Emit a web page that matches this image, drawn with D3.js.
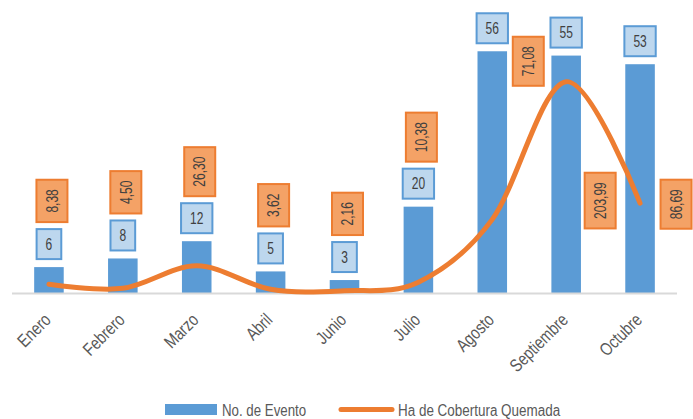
<!DOCTYPE html>
<html>
<head>
<meta charset="utf-8">
<script src="https://cdn.jsdelivr.net/npm/d3@7"></script>
<style>
  html, body { margin: 0; padding: 0; background: #ffffff; }
  svg { display: block; }
  text { font-family: "Liberation Sans Narrow", "Liberation Sans", sans-serif; }
</style>
</head>
<body>
<svg id="chart" width="693" height="419"></svg>
<script>
// ---- data ----
const categories = ["Enero", "Febrero", "Marzo", "Abril", "Junio", "Julio", "Agosto", "Septiembre", "Octubre"];
const eventos = [6, 8, 12, 5, 3, 20, 56, 55, 53];
const hectareas = [8.38, 4.50, 26.30, 3.62, 2.16, 10.38, 71.08, 203.99, 86.69];
const hectareaLabels = ["8,38", "4,50", "26,30", "3,62", "2,16", "10,38", "71,08", "203,99", "86,69"];
const seriesNames = ["No. de Evento", "Ha de Cobertura Quemada"];
// manual label placement (offsets of the orange labels, px) for the last months
const orangeLabelOffset = [null, null, null, null, null, null, {dx: 36, dy: 10}, {dx: 34, dy: 145}, {dx: 36, dy: 140}];

// ---- layout ----
const plot = {left: 12, right: 677, top: 34, bottom: 293};
const blue = "#5B9BD5", orange = "#ED7D31";
const svg = d3.select("#chart");

// condense a text element horizontally (narrow font look)
function condense(sel, k) {
  sel.each(function () {
    const len = this.getComputedTextLength();
    d3.select(this).attr("textLength", len * k).attr("lengthAdjust", "spacingAndGlyphs");
  });
  return sel;
}

const x = d3.scaleBand().domain(categories).range([plot.left, plot.right]).paddingInner(0.6).paddingOuter(0.3);
const y = d3.scaleLinear().domain([0, 60]).range([plot.bottom, plot.top]);
const y2 = d3.scaleLinear().domain([0, 250]).range([plot.bottom, plot.top]);
const cx = c => x(c) + x.bandwidth() / 2;

// bars
svg.append("g").selectAll("rect").data(categories).join("rect")
  .attr("x", c => x(c)).attr("width", x.bandwidth())
  .attr("y", (c, i) => y(eventos[i])).attr("height", (c, i) => y(0) - y(eventos[i]))
  .attr("fill", blue);

// axis line
svg.append("line").attr("x1", plot.left).attr("x2", plot.right)
  .attr("y1", plot.bottom + 0.5).attr("y2", plot.bottom + 0.5)
  .attr("stroke", "#d9d9d9").attr("stroke-width", 2);

// smoothed line
const line = d3.line().x((d, i) => cx(categories[i])).y(d => y2(d)).curve(d3.curveCardinal.tension(0));
svg.append("path").datum(hectareas).attr("d", line)
  .attr("fill", "none").attr("stroke", orange).attr("stroke-width", 5).attr("stroke-linecap", "round");

// x axis labels
const xAxis = d3.axisBottom(x).tickSize(0).tickPadding(0);
const gx = svg.append("g").attr("transform", `translate(0,${plot.bottom})`).call(xAxis);
gx.select(".domain").remove();
const xt = gx.selectAll("text")
  .attr("font-family", "Liberation Sans Narrow, Liberation Sans, sans-serif")
  .attr("font-size", 18).attr("fill", "#595959")
  .attr("text-anchor", "end")
  .attr("x", 0).attr("y", 0).attr("dy", 0)
  .attr("transform", "translate(3,28) rotate(-45)");
condense(xt, 0.8);

// data labels
const fs = 16;
const labelG = svg.append("g");
categories.forEach((c, i) => {
  const barTop = y(eventos[i]);
  // blue label
  const bt = labelG.append("text").text(eventos[i])
    .attr("font-size", fs).attr("fill", "#404040").attr("text-anchor", "middle");
  condense(bt, 0.75);
  const bw = +bt.attr("textLength") + 18;
  const bh = 30;
  const bBottom = barTop - 8;
  const bTop = bBottom - bh;
  labelG.insert("rect", "text").attr("x", cx(c) - bw / 2).attr("y", bTop).attr("width", bw).attr("height", bh)
    .attr("fill", "#BDD7EE").attr("stroke", blue).attr("stroke-width", 2);
  bt.attr("x", cx(c)).attr("y", bTop + bh / 2).attr("dy", "0.36em");
  // orange label (rotated)
  const ot = labelG.append("text").text(hectareaLabels[i])
    .attr("font-size", fs).attr("fill", "#404040").attr("text-anchor", "middle");
  condense(ot, 0.75);
  const oh = +ot.attr("textLength") + 19;
  const ow = 31;
  let ocx, ocy;
  const off = orangeLabelOffset[i];
  if (off) { ocx = cx(c) + off.dx; ocy = barTop + off.dy; }
  else { ocx = cx(c) + 3; ocy = bTop - 7 - oh / 2; }
  labelG.insert("rect", "text").attr("x", ocx - ow / 2).attr("y", ocy - oh / 2).attr("width", ow).attr("height", oh)
    .attr("fill", "#F4A266").attr("stroke", orange).attr("stroke-width", 2);
  ot.attr("transform", `translate(${ocx},${ocy}) rotate(-90)`).attr("dy", "0.36em");
});

// legend
const lg = svg.append("g");
lg.append("rect").attr("x", 165).attr("y", 404).attr("width", 52).attr("height", 11).attr("fill", blue);
condense(lg.append("text").attr("x", 222).attr("y", 410).attr("dy", "0.36em").attr("font-size", 16).attr("fill", "#595959").text(seriesNames[0]), 0.83);
lg.append("line").attr("x1", 341).attr("x2", 392).attr("y1", 409.5).attr("y2", 409.5)
  .attr("stroke", orange).attr("stroke-width", 5).attr("stroke-linecap", "round");
condense(lg.append("text").attr("x", 398).attr("y", 410).attr("dy", "0.36em").attr("font-size", 16).attr("fill", "#595959").text(seriesNames[1]), 0.84);
</script>
</body>
</html>
